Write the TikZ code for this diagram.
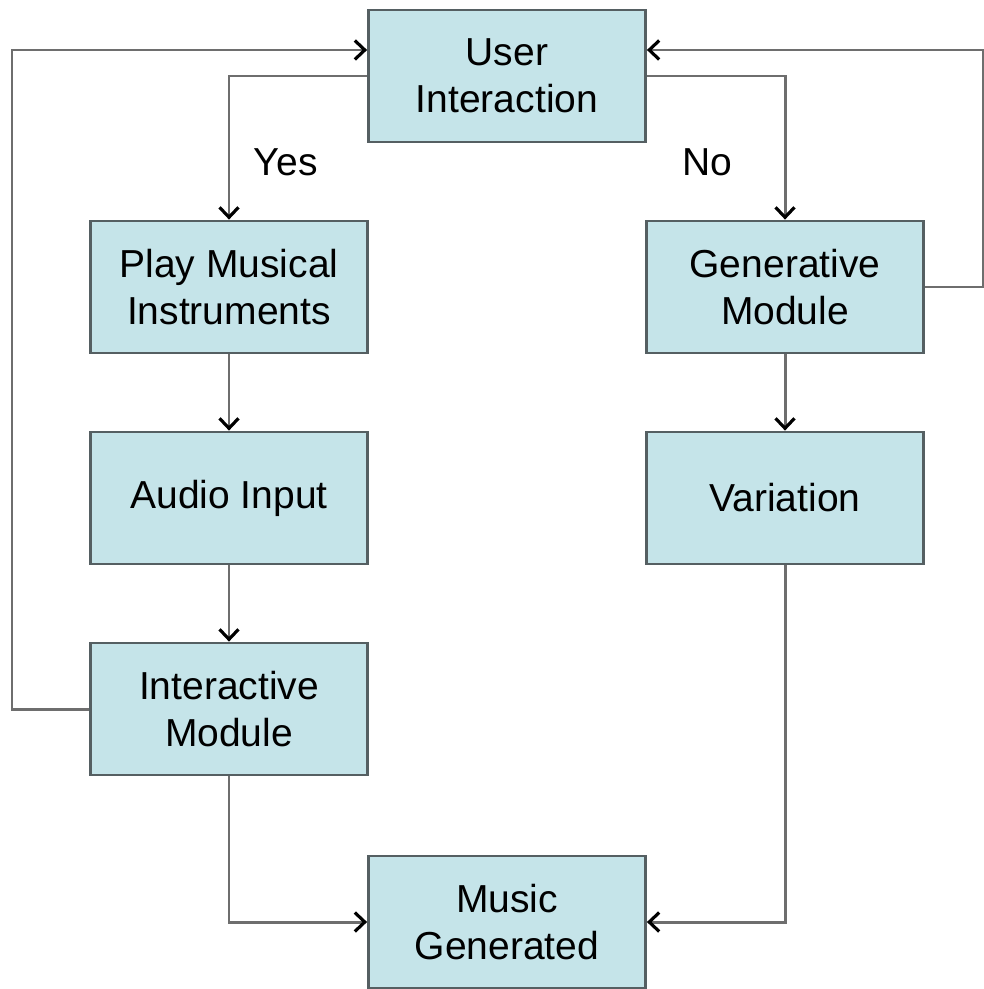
\documentclass[tikz,border=0pt]{standalone}
\usepackage{fontspec}
\setmainfont{Liberation Sans}
\usetikzlibrary{arrows.meta,positioning}

\definecolor{boxfill}{RGB}{197,228,233}
\definecolor{boxline}{RGB}{85,95,98}
\definecolor{flowline}{RGB}{110,110,110}

\tikzset{
  stage/.style={draw=boxline, line width=1.6pt, fill=boxfill, rectangle,
    minimum width=5.54cm, minimum height=2.64cm, align=center,
    font=\fontsize{22.2}{27}\selectfont},
  flow/.style={draw=flowline, line width=1.7pt,
    -{Straight Barb[length=2mm,width=3.8mm,color=black,line width=1.8pt]}},
  tag/.style={font=\fontsize{22.2}{27}\selectfont}
}

\begin{document}
\begin{tikzpicture}[node distance=4.22cm]
   \useasboundingbox (0,0) rectangle (19.66,-19.78);

   \node[stage] (user) at (10.14,-1.52) {User\\Interaction};
   \node[stage] (play) at (4.58,-5.74) {Play Musical\\Instruments};
   \node[stage] (audio) [below of=play] {Audio Input};
   \node[stage] (inter) [below of=audio] {Interactive\\Module};
   \node[stage] (gen) at (15.70,-5.74) {Generative\\Module};
   \node[stage] (vari) [below of=gen] {Variation};
   \node[stage] (music) at (10.14,-18.44) {Music\\Generated};

   \coordinate (backl) at (0.24,0);
   \coordinate (backr) at (19.67,0);

   \path[flow] (user.west) -| node[tag, pos=0.8, right=0.35cm] {Yes} (play.north);
   \path[flow] (user.east) -| node[tag, pos=0.8, left=0.9cm] {No} (gen.north);
   \path[flow] (play) -- (audio);
   \path[flow] (audio) -- (inter);
   \path[flow] (gen) -- (vari);

   % feedback loops
   \path[flow] (inter.west) -- (inter.west -| backl) |- ([yshift=0.52cm]user.west);
   \path[flow] (gen.east) -- (gen.east -| backr) |- ([yshift=0.52cm]user.east);

   \path[flow] (inter.south) |- (music.west);
   \path[flow] (vari.south) |- (music.east);
\end{tikzpicture}
\end{document}
